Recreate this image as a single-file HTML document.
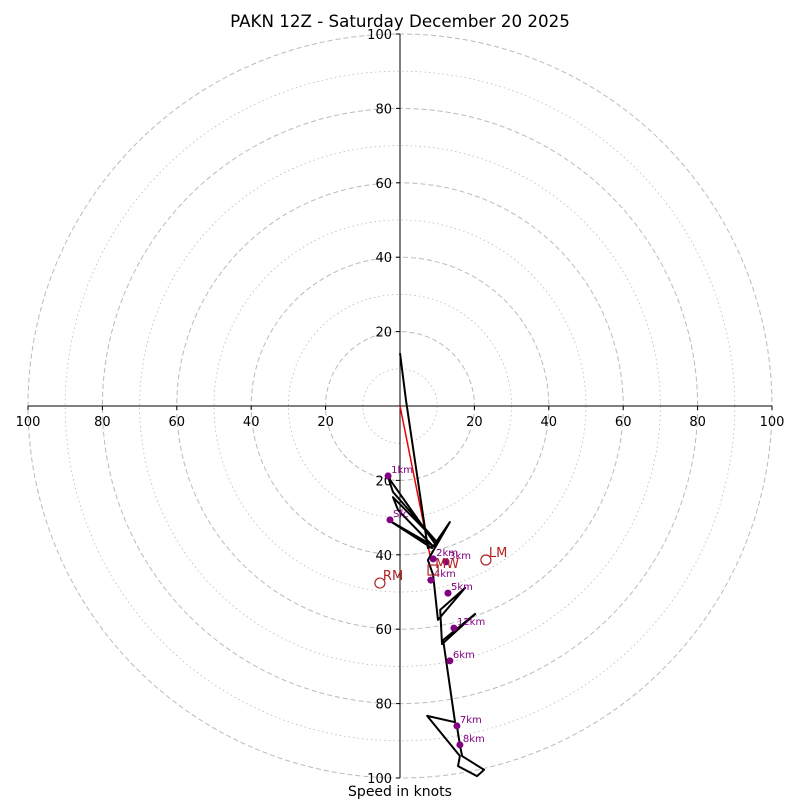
<!DOCTYPE html>
<html><head><meta charset="utf-8"><style>
body{margin:0;background:#fff}
svg{display:block;font-family:"DejaVu Sans","Liberation Sans",sans-serif}
</style></head><body>
<svg id="c" width="800" height="800"></svg>
<script>
const uVals=[0,1.6,7.5,9.7,-3.2,-1.9,9.7,-1.9,-0.5,8.6,-3.2,8.6,13.4,7.5,8.9,10.2,17.5,10.8,11.3,20.2,11.6,14.8,7.3,16.1,15.6,20.7,22.6,16.7,16.1,15.3];
const vVals=[14.2,1.6,-38.2,-37.4,-19.1,-23.1,-36.3,-24.5,-28.0,-37.4,-30.6,-38.2,-31.2,-41.4,-45.4,-57.5,-48.9,-54.8,-64.0,-55.9,-62.9,-85.0,-83.3,-94.1,-96.8,-99.5,-97.8,-94.1,-91.1,-86.0];
const markerLabels=["1km","Sfc","2km","3km","4km","5km","12km","6km","7km","8km"];
const markerU=[-3.2,-2.7,8.9,12.4,8.3,12.9,14.5,13.4,15.3,16.1];
const markerV=[-18.8,-30.6,-41.1,-41.9,-46.8,-50.3,-59.7,-68.5,-86.0,-91.1];
const meanWind=[8.3,-41.4];
const mwBox=[8.9,-44.1];
const lm=[23.1,-41.4];
const rm=[-5.4,-47.6];
const ringVals=[10,20,30,40,50,60,70,80,90,100];
const tickVals=[20,40,60,80,100];

const NS="http://www.w3.org/2000/svg",svg=document.getElementById('c');
const cx=400,cy=406,k=3.72;
const X=u=>cx+u*k, Y=v=>cy-v*k;
function el(t,a,p){const e=document.createElementNS(NS,t);for(const n in a)e.setAttribute(n,a[n]);(p||svg).appendChild(e);return e;}
function txt(s,a){const e=el('text',a);e.textContent=s;return e;}

ringVals.forEach(r=>{
  const c=el('circle',{cx:cx,cy:cy,r:r*k,fill:'none',stroke:'#bbb','stroke-width':r%20?0.8:1,'stroke-dasharray':r%20?'1.5,3':'5,3'});
  
  
});
const ax=el('g',{});


el('line',{x1:cx,y1:Y(100),x2:cx,y2:Y(-100),stroke:'#000','stroke-width':1},ax);
el('line',{x1:X(-100),y1:cy,x2:X(100),y2:cy,stroke:'#000','stroke-width':1},ax);
tickVals.forEach(t=>{
  [t,-t].forEach(s=>{
    el('line',{x1:X(s),y1:cy,x2:X(s),y2:cy+4,stroke:'#000'},ax);
    const a=txt(String(t),{x:X(s),y:cy+20,'font-size':13,'text-anchor':'middle'});
    
    
    el('line',{x1:cx-4,y1:Y(s),x2:cx,y2:Y(s),stroke:'#000'},ax);
    const b=txt(String(t),{x:cx-8,y:Y(s)+5,'font-size':13,'text-anchor':'end'});
    
    
  });
});
const mwl=el('line',{x1:X(0),y1:Y(0),x2:X(meanWind[0]),y2:Y(meanWind[1]),stroke:'#e00','stroke-width':1.5});


const hp=el('polyline',{points:uVals.map((u,i)=>X(u)+','+Y(vVals[i])).join(' '),fill:'none',stroke:'#000','stroke-width':2,'stroke-linejoin':'round'});


markerLabels.forEach((l,i)=>{
  const d=el('circle',{cx:X(markerU[i]),cy:Y(markerV[i]),r:3.5,fill:'#800080'});
  
  
  const t=txt(l,{x:X(markerU[i])+3,y:Y(markerV[i])-3,'font-size':10,fill:'#800080'});
  
  
});
const box=el('rect',{x:X(mwBox[0])-5,y:Y(mwBox[1])-5,width:10,height:10,fill:'none',stroke:'#b22222','stroke-width':1.2});


const mwt=txt('MW',{x:X(mwBox[0])+2,y:Y(mwBox[1])-2,'font-size':13,fill:'#b22222'});


[[lm,'LM'],[rm,'RM']].forEach(([p,l])=>{
  const c=el('circle',{cx:X(p[0]),cy:Y(p[1]),r:5,fill:'none',stroke:'#b22222','stroke-width':1.2});
  
  
  const t=txt(l,{x:X(p[0])+3,y:Y(p[1])-3,'font-size':13,fill:'#b22222'});
  
  
});
const ti=txt('PAKN 12Z - Saturday December 20 2025',{x:400,y:27,'font-size':16.7,'text-anchor':'middle'});


const xl=txt('Speed in knots',{x:400,y:796,'font-size':14,'text-anchor':'middle'});


</script>
</body></html>
